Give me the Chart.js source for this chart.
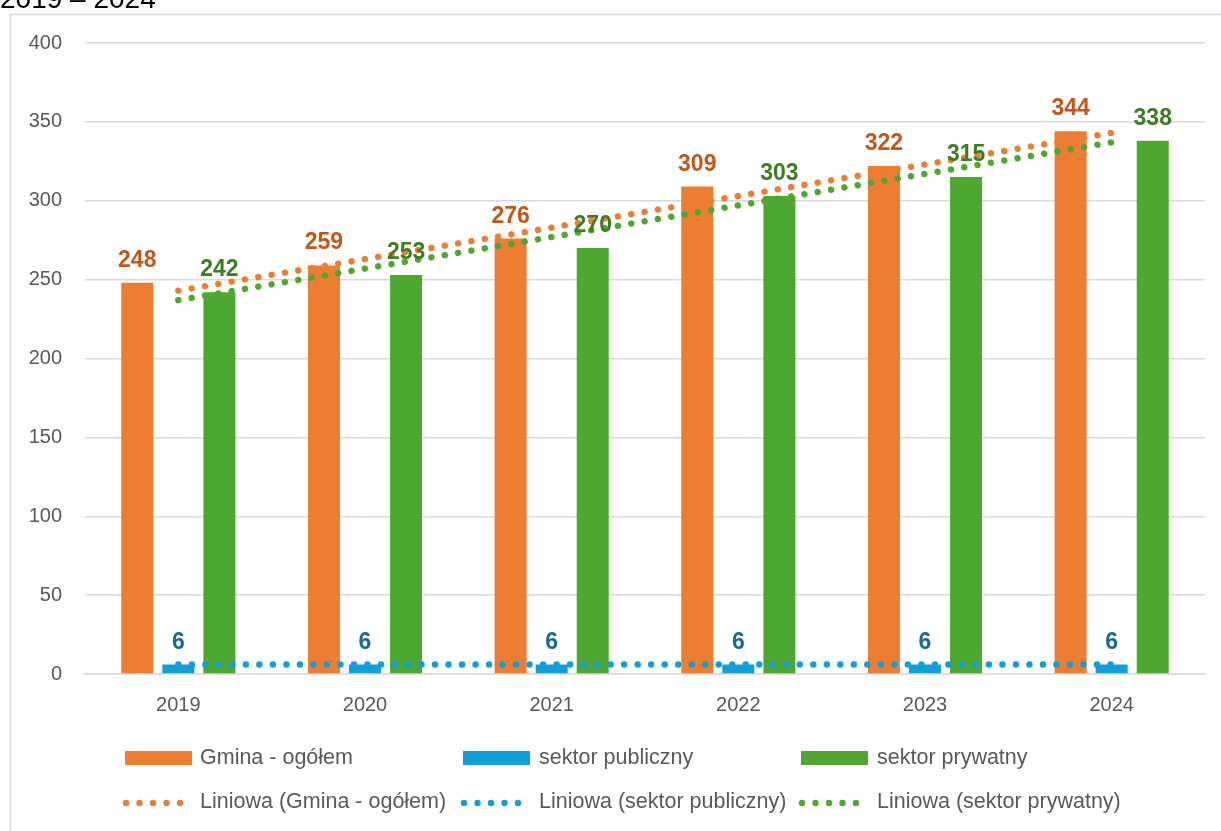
<!DOCTYPE html>
<html>
<head>
<meta charset="utf-8">
<script src="https://cdn.jsdelivr.net/npm/chart.js@4.4.1/dist/chart.umd.min.js"></script>
<style>
  html, body { margin: 0; padding: 0; background: #fff; }
  #wrap { width: 1221px; height: 831px; position: relative; }
</style>
</head>
<body>
<div id="wrap"><canvas id="c"></canvas></div>
<script>
// ---- data ----
const categories = ['2019', '2020', '2021', '2022', '2023', '2024'];
const gminaOgolem = [248, 259, 276, 309, 322, 344];
const sektorPubliczny = [6, 6, 6, 6, 6, 6];
const sektorPrywatny = [242, 253, 270, 303, 315, 338];
// trend lines (start and end values)
const trendGmina = [243, null, null, null, null, 343];
const trendPubliczny = [6, null, null, null, null, 6];
const trendPrywatny = [237, null, null, null, null, 337];
const yTicks = [0, 50, 100, 150, 200, 250, 300, 350, 400];
const titleText = '2019 – 2024';
const seriesNames = ['Gmina - ogółem', 'sektor publiczny', 'sektor prywatny'];
const trendNames = ['Liniowa (Gmina - ogółem)', 'Liniowa (sektor publiczny)', 'Liniowa (sektor prywatny)'];

const COL = ['#ED7D31', '#129FD8', '#4EA72E'];
const LBL = ['#C4561A', '#17699A', '#3A7D22'];
const FONT = "'Liberation Sans', Arial, sans-serif";

const dotDash = [0.01, 13.5];

const framePlugin = {
  id: 'frame',
  beforeDraw(chart) {
    const ctx = chart.ctx;
    ctx.save();
    ctx.strokeStyle = '#D9D9D9';
    ctx.lineWidth = 1.5;
    ctx.beginPath();
    ctx.moveTo(10.5, 900);
    ctx.lineTo(10.5, 14.5);
    ctx.lineTo(1300, 14.5);
    ctx.stroke();
    ctx.fillStyle = '#000';
    ctx.font = '28px ' + FONT;
    ctx.textBaseline = 'alphabetic';
    ctx.textAlign = 'left';
    ctx.fillText(titleText, 0, 8);
    ctx.restore();
  }
};

const labelPlugin = {
  id: 'barLabels',
  afterDatasetsDraw(chart) {
    const ctx = chart.ctx;
    ctx.save();
    ctx.font = 'bold 23px ' + FONT;
    ctx.textAlign = 'center';
    ctx.textBaseline = 'alphabetic';
    for (let d = 0; d < 3; d++) {
      const meta = chart.getDatasetMeta(d);
      const data = chart.data.datasets[d].data;
      ctx.fillStyle = LBL[d];
      meta.data.forEach((bar, i) => {
        ctx.fillText(String(data[i]), bar.x, bar.y - 16);
      });
    }
    ctx.restore();
  }
};

const legendPlugin = {
  id: 'customLegend',
  afterDraw(chart) {
    const ctx = chart.ctx;
    const colX = [125, 463, 801];
    const textX = [200, 539, 877];
    ctx.save();
    ctx.font = '21.5px ' + FONT;
    ctx.textAlign = 'left';
    ctx.textBaseline = 'middle';
    for (let k = 0; k < 3; k++) {
      ctx.fillStyle = COL[k];
      ctx.fillRect(colX[k], 751, 67, 14);
      ctx.fillStyle = '#595959';
      ctx.fillText(seriesNames[k], textX[k], 758);
      ctx.fillStyle = COL[k];
      for (let j = 0; j < 5; j++) {
        ctx.beginPath();
        ctx.arc(colX[k] + 1 + j * 13.5, 803, 3.2, 0, Math.PI * 2);
        ctx.fill();
      }
      ctx.fillStyle = '#595959';
      ctx.fillText(trendNames[k], textX[k], 802);
    }
    ctx.restore();
  }
};

function barDs(label, data, k) {
  return {
    type: 'bar', label, data,
    backgroundColor: COL[k],
    barPercentage: 0.78,
    categoryPercentage: 0.66,
    order: 1
  };
}
function trendDs(label, data, k) {
  return {
    type: 'line', label, data,
    borderColor: COL[k],
    borderWidth: 6.5,
    borderDash: dotDash,
    borderCapStyle: 'round',
    pointRadius: 0,
    spanGaps: true,
    fill: false,
    tension: 0,
    order: 0
  };
}

new Chart(document.getElementById('c'), {
  data: {
    labels: categories,
    datasets: [
      barDs(seriesNames[0], gminaOgolem, 0),
      barDs(seriesNames[1], sektorPubliczny, 1),
      barDs(seriesNames[2], sektorPrywatny, 2),
      trendDs(trendNames[0], trendGmina, 0),
      trendDs(trendNames[1], trendPubliczny, 1),
      trendDs(trendNames[2], trendPrywatny, 2)
    ]
  },
  options: {
    responsive: true,
    maintainAspectRatio: false,
    animation: false,
    devicePixelRatio: 1,
    layout: { padding: { top: 43, right: 16, left: 0, bottom: 0 } },
    plugins: {
      legend: { display: false },
      tooltip: { enabled: false },
      title: { display: false }
    },
    scales: {
      x: {
        grid: { display: false, drawTicks: false },
        border: { display: true, color: '#D9D9D9', width: 1.5 },
        ticks: { color: '#595959', font: { family: FONT, size: 20 }, padding: 19, maxRotation: 0 },
        afterFit(s) { s.height = 157; }
      },
      y: {
        min: 0, max: 400,
        afterBuildTicks(s) { s.ticks = yTicks.map(v => ({ value: v })); },
        grid: { color: '#D9D9D9', lineWidth: 1.5, drawTicks: false },
        border: { display: false },
        ticks: { color: '#595959', font: { family: FONT, size: 20 }, padding: 23 },
        afterFit(s) { s.width = 85; }
      }
    }
  },
  plugins: [framePlugin, labelPlugin, legendPlugin]
});
</script>
</body>
</html>
